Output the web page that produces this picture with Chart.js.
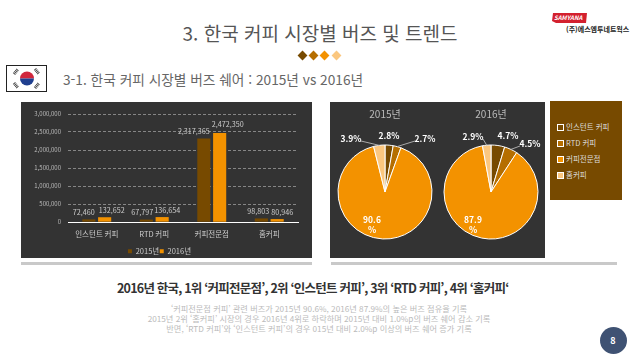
<!DOCTYPE html>
<html lang="ko">
<head>
<meta charset="utf-8">
<script src="https://cdn.jsdelivr.net/npm/chart.js@4"></script>
<style>
  html, body { margin: 0; padding: 0; background: #fff; }
  #slide { position: relative; width: 638px; height: 359px; overflow: hidden; font-family: "Noto Sans CJK KR", "Noto Sans", sans-serif; }
  #slide > * { position: absolute; }
  .panel { background: #333; }
  .strip { background: #c9c9c9; height: 3px; top: 262px; }
  .txt { white-space: nowrap; }
  .center { transform: translateX(-50%); }
  .diamond { width: 7px; height: 7px; top: 51.5px; transform: rotate(45deg); }
  #legendBox { left: 550px; top: 101px; width: 72px; height: 99px; background: #774a00; }
  .legItem { position: absolute; left: 7px; color: #ddd; font-size: 7.5px; line-height: 10px; white-space: nowrap; }
  .legItem i { display: inline-block; width: 5px; height: 5px; border: 1.5px solid #fff; margin-right: 2px; vertical-align: -0.5px; }
  #pageNo { left: 599.5px; top: 326.5px; width: 27px; height: 27px; border-radius: 50%; background: #3f5273; color: #fff; font-size: 9px; font-weight: 700; line-height: 27px; text-align: center; }
</style>
</head>
<body>
<div id="slide">
  <div class="txt center" style="left:320px;top:19px;font-size:19px;line-height:28px;color:#555">3. 한국 커피 시장별 버즈 및 트렌드</div>
  <div class="diamond" style="left:298.5px;background:#774a00"></div>
  <div class="diamond" style="left:309.5px;background:#b56e00"></div>
  <div class="diamond" style="left:321px;background:#f39200"></div>
  <div class="diamond" style="left:332.5px;background:#fbc77f"></div>

  <svg style="left:6px;top:65px" width="41" height="27" viewBox="0 0 41 27">
    <rect x="0.5" y="0.5" width="40" height="26" fill="#fff" stroke="#222"/>
    <path d="M14 13.5a7 7 0 0 1 14 0z" fill="#d0263c"/>
    <path d="M14 13.5a7 7 0 0 0 14 0z" fill="#1f3f8f"/>
    <g stroke="#444" stroke-width="3" stroke-dasharray="1 0.6">
      <path d="M8 9l4-5M29 4l4 5M8 18l4 5M29 23l4-5"/>
    </g>
  </svg>
  <div class="txt" style="left:63px;top:68px;font-size:13.7px;line-height:22px;color:#666">3-1. 한국 커피 시장별 버즈 쉐어 : 2015년 vs 2016년</div>

  <svg style="left:552px;top:12px" width="36" height="12" viewBox="0 0 36 12">
    <path d="M1 1L35 1L34 11L4 11L0 9z" fill="#d3202e"/>
    <text x="2" y="8" font-size="6" font-style="italic" font-weight="700" fill="#fff">SAMYANA</text>
  </svg>
  <div class="txt" style="left:566px;top:24px;font-size:7px;line-height:10px;font-weight:700;color:#222">(주)에스엠투네트웍스</div>

  <div class="panel" style="left:21px;top:102px;width:291px;height:156px"></div>
  <div class="panel" style="left:330px;top:102px;width:215px;height:156px"></div>
  <div class="strip" style="left:21px;width:291px"></div>
  <div class="strip" style="left:331px;width:286px"></div>

  <canvas id="barChart" style="left:21px;top:102px;width:291px;height:156px"></canvas>
  <canvas id="pie2015" style="left:330px;top:102px;width:110px;height:156px"></canvas>
  <canvas id="pie2016" style="left:436px;top:102px;width:110px;height:156px"></canvas>

  <div id="legendBox"></div>

  <div class="txt" style="left:117px;top:278px;font-size:12.5px;line-height:20px;font-weight:700;letter-spacing:-0.78px;color:#333">2016년 한국, 1위 ‘커피전문점’, 2위 ‘인스턴트 커피’, 3위 ‘RTD 커피’, 4위 ‘홈커피‘</div>
  <div class="txt center" style="left:319px;top:303px;font-size:8.2px;line-height:10px;color:#bbb;text-align:center">‘커피전문점 커피’ 관련 버즈가 2015년 90.6%, 2016년 87.9%의 높은 버즈 점유율 기록<br>2015년 2위 ‘홈커피’ 시장의 경우 2016년 4위로 하락하며 2015년 대비 1.0%p의 버즈 쉐어 감소 기록<br>반면, ‘RTD 커피’와 ‘인스턴트 커피’의 경우 015년 대비 2.0%p 이상의 버즈 쉐어 증가 기록</div>
  <div id="pageNo">8</div>
</div>
<script>
const categories = ["인스턴트 커피", "RTD 커피", "커피전문점", "홈커피"];
const buzz2015 = [72460, 67797, 2317365, 98803];
const buzz2016 = [132652, 136654, 2472350, 80946];
const share2015 = [2.8, 2.7, 90.6, 3.9];
const share2016 = [4.7, 4.5, 87.9, 2.9];
const pieColors = ["#774a00", "#b56e00", "#f39200", "#fbc77f"];
const fontName = '"Noto Sans CJK KR", "Noto Sans", sans-serif';

// hand placed label nudges, dx from the bar centre
const nudge2015 = [-5, -4, -10, -3];
const nudge2016 = [7, 5, 8, 5];
// pie label spots relative to the pie centre
const spots2015 = [[4, -56], [40, -53], [-13, 28], [-34, -53]];
const spots2016 = [[17, -56], [39, -48], [-18, 28], [-18, -55]];

const barLabels = {
  id: "barLabels",
  afterLayout(chart) {
    // legend sits lower in the panel than the layout would put it
    chart.legend.top += 7;
    chart.legend.bottom += 7;
  },
  afterDatasetsDraw(chart) {
    const ctx = chart.ctx;
    ctx.save();
    ctx.font = "7.2px " + fontName;
    ctx.fillStyle = "#ccc";
    ctx.textAlign = "center";
    ctx.textBaseline = "middle";
    [nudge2015, nudge2016].forEach((nudge, d) => {
      chart.getDatasetMeta(d).data.forEach((bar, i) => {
        const value = chart.data.datasets[d].data[i];
        ctx.fillText(value.toLocaleString("en-US"), bar.x + nudge[i], bar.y - 7 - (d === 1 && i === 2 ? 2 : 0));
      });
    });
    ctx.restore();
  },
};

const pieLabels = {
  id: "pieLabels",
  afterDatasetsDraw(chart, args, opts) {
    const ctx = chart.ctx;
    const arcs = chart.getDatasetMeta(0).data;
    ctx.save();
    ctx.textAlign = "center";
    ctx.textBaseline = "middle";
    arcs.forEach((arc, i) => {
      const cx = arc.x, cy = arc.y;
      const [dx, dy] = opts.spots[i];
      const value = chart.data.datasets[0].data[i].toFixed(1);
      ctx.font = "bold 8.5px " + fontName;
      ctx.fillStyle = "#fff";
      if (i === 2) {
        // the big slice label wraps in the original
        ctx.fillText(value, cx + dx, cy + dy);
        ctx.fillText("%", cx + dx, cy + dy + 10);
        return;
      }
      ctx.fillText(value + "%", cx + dx, cy + dy);
      const mid = (arc.startAngle + arc.endAngle) / 2;
      const ex = cx + Math.cos(mid) * arc.outerRadius;
      const ey = cy + Math.sin(mid) * arc.outerRadius;
      // only RTD and home coffee have leader lines
      if (i % 2 === 1) {
        ctx.strokeStyle = "#aaa";
        ctx.lineWidth = 1;
        ctx.beginPath();
        ctx.moveTo(cx + dx + (dx > 0 ? -10 : 10), cy + dy + 2);
        ctx.lineTo(ex, ey);
        ctx.stroke();
      }
    });
    ctx.restore();
  },
};

new Chart(document.getElementById("barChart"), {
  type: "bar",
  plugins: [barLabels],
  data: {
    labels: categories,
    datasets: [
      { label: "2015년", data: buzz2015, backgroundColor: "#774a00", categoryPercentage: 0.55, barPercentage: 0.83 },
      { label: "2016년", data: buzz2016, backgroundColor: "#f39200", categoryPercentage: 0.55, barPercentage: 0.83 },
    ],
  },
  options: {
    responsive: false,
    animation: false,
    layout: { padding: { top: 12, right: 14, left: 0, bottom: 0 } },
    plugins: {
      tooltip: { enabled: false },
      legend: {
        position: "bottom",
        labels: { color: "#ccc", boxWidth: 4, boxHeight: 4, padding: 0.5, font: { size: 7.5, family: fontName } },
      },
    },
    scales: {
      x: {
        afterFit: (s) => { s.height = 18; },
        grid: { display: false, drawTicks: false },
        border: { color: "#fff", width: 1 },
        ticks: { color: "#ccc", padding: 8, maxRotation: 0, font: { size: 7.5, family: fontName } },
      },
      y: {
        min: 0,
        max: 3000000,
        afterFit: (s) => { s.width = 47; },
        grid: { color: "#aaa", lineWidth: 0.7, drawTicks: false },
        border: { display: false, dash: [3, 2] },
        ticks: {
          stepSize: 500000,
          color: "#bbb",
          padding: 7,
          font: { size: 6, family: fontName },
          callback: (v) => v.toLocaleString("en-US"),
        },
      },
    },
  },
});

function makePie(id, title, values, spots) {
  new Chart(document.getElementById(id), {
    type: "pie",
    plugins: [pieLabels],
    data: {
      labels: categories,
      datasets: [{ data: values, backgroundColor: pieColors, borderColor: "#fff", borderWidth: 1, radius: 47 }],
    },
    options: {
      responsive: false,
      animation: false,
      plugins: {
        tooltip: { enabled: false },
        legend: { display: false },
        title: {
          display: true,
          text: title,
          color: "#bbb",
          padding: { top: 5, bottom: 4.6 },
          font: { size: 10, weight: "normal", family: fontName, lineHeight: 1.44 },
        },
        pieLabels: { spots },
      },
    },
  });
}
makePie("pie2015", "2015년", share2015, spots2015);
makePie("pie2016", "2016년", share2016, spots2016);

const legendBox = document.getElementById("legendBox");
categories.forEach((name, i) => {
  const row = document.createElement("div");
  row.className = "legItem";
  row.style.top = 21 + i * 16 + "px";
  row.innerHTML = `<i style="background:${pieColors[i]}"></i>${name}`;
  legendBox.appendChild(row);
});
</script>
</body>
</html>
